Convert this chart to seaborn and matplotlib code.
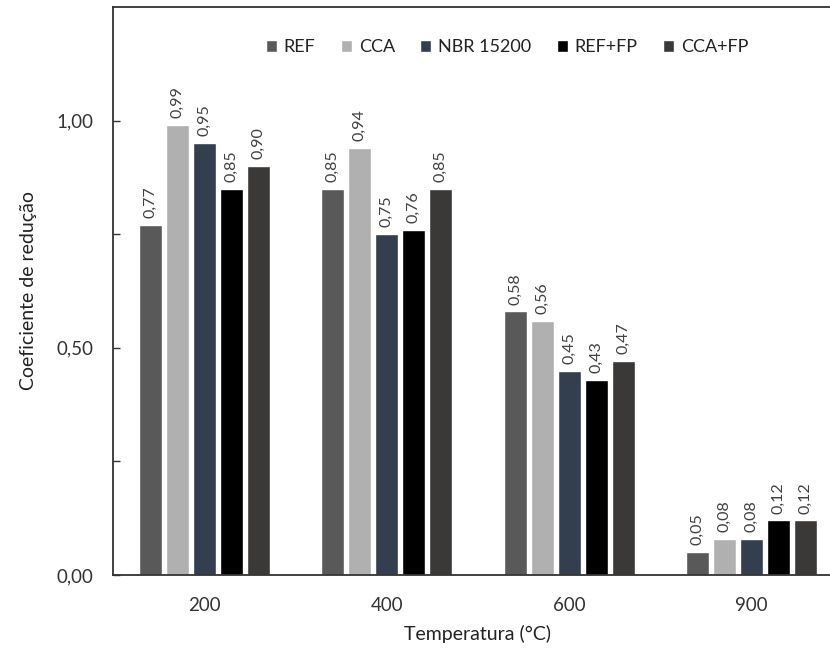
import matplotlib
matplotlib.use("Agg")
import matplotlib.pyplot as plt
from matplotlib.ticker import FixedLocator, FuncFormatter
import seaborn as sns
import pandas as pd

# Temperatures (x groups) and series
temperatures = ["200", "400", "600", "900"]
series = ["REF", "CCA", "NBR 15200", "REF+FP", "CCA+FP"]

ref = [0.77, 0.85, 0.58, 0.05]
cca = [0.99, 0.94, 0.56, 0.08]
nbr = [0.95, 0.75, 0.45, 0.08]
ref_fp = [0.85, 0.76, 0.43, 0.12]
cca_fp = [0.90, 0.85, 0.47, 0.12]

colors = ["#595959", "#b0b0b0", "#333f4f", "#000000", "#3b3838"]

values = {"REF": ref, "CCA": cca, "NBR 15200": nbr, "REF+FP": ref_fp, "CCA+FP": cca_fp}
rows = []
for s in series:
    for t, v in zip(temperatures, values[s]):
        rows.append({"Temperatura": t, "Série": s, "Coeficiente": v})
df = pd.DataFrame(rows)

sns.set_theme(style="white")
plt.rcParams["font.family"] = ["Lato", "DejaVu Sans"]

fig = plt.figure(figsize=(8.30, 6.49), dpi=100)
ax = fig.add_axes([113 / 830, 74 / 649, 730 / 830, 568 / 649])

sns.barplot(data=df, x="Temperatura", y="Coeficiente", hue="Série",
            order=temperatures, hue_order=series, palette=colors,
            width=0.74, gap=0.16, saturation=1, ax=ax, legend=True)

for container in ax.containers:
    labels = [f"{v:.2f}".replace(".", ",") for v in container.datavalues]
    ax.bar_label(container, labels=labels, rotation=90, padding=5,
                 fontsize=11.5, color="#404040")

ax.set_ylim(0, 1.25)
ax.set_xlim(-0.5, 3.5)
ax.yaxis.set_major_locator(FixedLocator([0, 0.5, 1.0]))
ax.yaxis.set_minor_locator(FixedLocator([0.25, 0.75]))
ax.yaxis.set_major_formatter(FuncFormatter(lambda v, _: f"{v:.2f}".replace(".", ",")))
ax.tick_params(axis="y", which="both", direction="in", length=5, width=1,
               color="#333333", left=True, labelsize=13.5, labelcolor="#333333", pad=14)
ax.tick_params(axis="x", length=0, labelsize=13.5, labelcolor="#333333", pad=15.5)

for side in ["left", "bottom", "top", "right"]:
    ax.spines[side].set_color("#333333")
    ax.spines[side].set_linewidth(1.3)

ax.set_xlabel("Temperatura (°C)", fontsize=14, color="#222222", labelpad=8)
ax.set_ylabel("Coeficiente de redução", fontsize=14, color="#222222", labelpad=14)

leg = ax.legend(loc="upper left", bbox_to_anchor=(0.187, 0.972), ncol=5, frameon=False,
                fontsize=13, handlelength=0.6, handleheight=0.6, handletextpad=0.4,
                columnspacing=1.4, labelcolor="#222222")

fig.savefig("out.png", dpi=100)
